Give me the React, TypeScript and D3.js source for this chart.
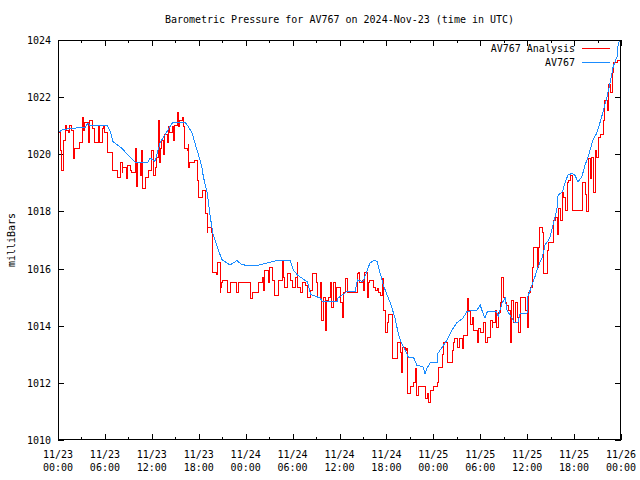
import React from "react";
import * as d3 from "d3";

const TITLE = "Barometric Pressure for AV767 on 2024-Nov-23 (time in UTC)";
const Y_LABEL = "milliBars";
const SERIES_NAMES = ["AV767 Analysis", "AV767"];

const yTicks = [1010, 1012, 1014, 1016, 1018, 1020, 1022, 1024];
const xTickHours = [0, 6, 12, 18, 24, 30, 36, 42, 48, 54, 60, 66, 72];
const xTickDates = ["11/23", "11/23", "11/23", "11/23", "11/24", "11/24", "11/24", "11/24", "11/25", "11/25", "11/25", "11/25", "11/26"];
const xTickTimes = ["00:00", "06:00", "12:00", "18:00", "00:00", "06:00", "12:00", "18:00", "00:00", "06:00", "12:00", "18:00", "00:00"];
const xMinorHours = [3, 9, 15, 21, 27, 33, 39, 45, 51, 57, 63, 69];

// AV767 (observed) — hours since 2024-11-23 00:00 UTC
const av767Hours = [0, 0.5, 1.5, 3.5, 3.84, 4.1, 6.3, 6.7, 7.0, 8.2, 9.2, 9.85, 11.5, 11.8, 12.4, 13.05, 13.94, 14.7, 16.2, 16.6, 17.14, 17.5, 17.9, 18.4, 18.6, 19.1, 19.4, 19.8, 20.5, 21.0, 22.0, 22.9, 23.5, 25.5, 25.8, 28.0, 29.7, 30.1, 30.6, 31.9, 32.3, 33.5, 33.8, 35.7, 35.8, 36.7, 36.96, 38.0, 38.3, 39.0, 39.5, 39.9, 40.5, 40.8, 41.2, 41.6, 42.1, 42.5, 43.1, 43.5, 43.9, 44.4, 44.8, 45.5, 45.9, 46.7, 46.94, 47.2, 47.6, 48.5, 48.6, 49.2, 49.75, 50.4, 51.0, 51.8, 52.3, 53.6, 54.0, 54.2, 54.6, 54.9, 56.1, 56.3, 56.8, 57.2, 57.4, 57.8, 58.4, 58.8, 59.1, 59.98, 60.1, 60.6, 61.0, 61.4, 61.9, 62.3, 62.9, 63.3, 63.8, 63.95, 64.5, 64.84, 65.2, 65.7, 66.1, 66.5, 67.0, 67.4, 67.8, 68.04, 68.42, 68.9, 69.3, 69.7, 70.2, 70.6, 71.0, 71.5, 71.6, 71.9, 72];
const av767Values = [1020.75, 1020.85, 1020.9, 1020.95, 1021.1, 1021.0, 1021.0, 1020.8, 1020.45, 1020.2, 1019.9, 1019.73, 1019.73, 1019.87, 1019.75, 1020.4, 1020.8, 1021.13, 1021.13, 1021.0, 1020.75, 1020.4, 1020.05, 1019.55, 1019.2, 1018.64, 1017.94, 1017.24, 1016.65, 1016.3, 1016.13, 1016.28, 1016.13, 1016.1, 1016.13, 1016.28, 1016.28, 1015.95, 1015.78, 1015.53, 1015.1, 1014.97, 1014.86, 1014.86, 1014.97, 1015.14, 1015.2, 1015.2, 1015.6, 1015.55, 1015.9, 1016.2, 1016.3, 1016.25, 1015.84, 1015.42, 1015.07, 1014.8, 1014.27, 1013.75, 1013.4, 1013.15, 1012.9, 1012.87, 1012.62, 1012.55, 1012.31, 1012.52, 1012.7, 1012.7, 1013.04, 1013.27, 1013.5, 1013.85, 1014.1, 1014.27, 1014.5, 1014.55, 1014.72, 1014.55, 1014.27, 1014.49, 1014.49, 1014.32, 1014.8, 1014.97, 1014.55, 1014.38, 1014.1, 1014.1, 1014.44, 1014.44, 1015.02, 1015.42, 1015.72, 1016.07, 1016.37, 1016.83, 1017.07, 1017.52, 1018.05, 1018.57, 1018.69, 1018.99, 1019.27, 1019.33, 1019.27, 1019.04, 1019.22, 1019.62, 1019.92, 1020.15, 1020.5, 1020.74, 1021.1, 1021.48, 1022.0, 1022.5, 1023.07, 1023.42, 1023.77, 1024.1, 1024.2];

// AV767 Analysis
const analysisHours = [0, 0.26, 0.51, 0.64, 0.9, 1.15, 1.4, 1.53, 1.79, 1.92, 2.17, 2.81, 3.07, 3.2, 3.45, 3.84, 4.09, 4.35, 4.73, 5.12, 5.37, 5.63, 5.76, 6.0, 6.27, 6.39, 6.65, 6.91, 7.03, 7.67, 7.93, 8.19, 8.31, 8.82, 8.95, 9.21, 9.46, 9.85, 10.1, 10.23, 10.49, 10.74, 10.87, 11.13, 11.51, 12.02, 12.15, 12.41, 12.66, 12.79, 12.92, 13.05, 13.3, 13.43, 13.68, 13.94, 14.07, 14.32, 14.58, 14.71, 14.96, 15.22, 15.35, 15.6, 15.86, 15.99, 16.24, 16.5, 16.63, 16.75, 16.88, 17.27, 17.52, 17.78, 17.91, 18.42, 18.54, 18.8, 19.06, 19.18, 19.57, 19.7, 19.82, 20.33, 20.46, 20.72, 20.84, 20.97, 21.1, 21.74, 22.0, 22.89, 23.02, 24.56, 24.81, 25.58, 26.09, 26.22, 26.47, 26.86, 27.11, 27.37, 27.75, 28.14, 28.65, 28.78, 29.03, 29.29, 29.67, 30.05, 30.31, 30.57, 30.69, 30.95, 31.33, 31.59, 31.85, 32.23, 32.49, 33.12, 33.25, 33.51, 33.76, 33.89, 34.15, 34.4, 34.53, 34.79, 35.04, 35.17, 35.43, 35.68, 36.07, 36.32, 36.45, 36.71, 36.96, 38.24, 38.37, 38.62, 38.88, 39.01, 39.26, 39.52, 39.65, 39.9, 40.29, 40.54, 40.8, 40.93, 41.18, 41.44, 41.57, 41.82, 42.08, 42.21, 42.72, 42.84, 43.48, 43.74, 43.87, 44.12, 44.38, 44.63, 44.76, 45.02, 45.4, 45.66, 45.91, 46.04, 46.94, 47.19, 47.32, 47.58, 47.96, 48.47, 48.6, 49.11, 49.24, 49.75, 50.39, 50.52, 50.77, 51.03, 51.41, 51.67, 51.8, 52.31, 52.44, 52.69, 52.95, 53.08, 53.59, 53.72, 53.97, 54.36, 54.61, 54.87, 55.25, 55.51, 55.63, 55.89, 56.14, 56.27, 56.53, 56.78, 56.91, 57.17, 57.42, 57.55, 57.81, 58.06, 58.19, 58.45, 58.7, 58.83, 59.09, 59.73, 59.98, 60.11, 60.37, 60.62, 60.75, 61.26, 61.39, 61.64, 61.9, 62.03, 62.54, 62.67, 63.31, 63.56, 63.82, 63.95, 64.2, 64.46, 64.59, 64.84, 65.1, 65.23, 65.48, 65.74, 65.86, 67.02, 67.14, 67.4, 67.65, 67.78, 68.04, 68.29, 68.42, 68.68, 68.93, 69.06, 69.32, 69.7, 69.95, 70.21, 70.34, 70.6, 70.85, 70.98, 71.24, 71.49, 71.88, 72];
const analysisValues = [1020.75, 1020.15, 1019.45, 1020.5, 1021.0, 1020.85, 1020.75, 1021.0, 1020.85, 1019.87, 1020.2, 1020.4, 1021.3, 1020.85, 1021.1, 1020.4, 1021.2, 1020.9, 1020.4, 1021.0, 1020.43, 1020.9, 1021.0, 1020.75, 1020.57, 1020.05, 1020.08, 1019.73, 1019.45, 1019.2, 1019.73, 1019.38, 1019.55, 1019.17, 1019.62, 1019.45, 1019.35, 1020.2, 1018.86, 1019.73, 1019.27, 1020.15, 1018.82, 1019.2, 1019.45, 1020.15, 1019.27, 1019.55, 1019.9, 1021.2, 1019.73, 1020.2, 1020.5, 1019.98, 1020.68, 1020.4, 1020.96, 1020.78, 1020.96, 1020.5, 1021.0, 1021.45, 1020.96, 1021.2, 1021.3, 1020.96, 1020.2, 1020.15, 1020.33, 1019.55, 1019.73, 1019.7, 1019.8, 1019.1, 1018.5, 1018.68, 1018.75, 1017.94, 1017.28, 1017.45, 1017.28, 1015.95, 1015.88, 1015.78, 1016.23, 1015.15, 1015.35, 1015.5, 1015.6, 1015.15, 1015.5, 1015.18, 1015.5, 1014.97, 1015.15, 1015.5, 1015.7, 1015.25, 1015.95, 1015.5, 1016.05, 1015.6, 1015.07, 1015.6, 1016.3, 1015.7, 1015.33, 1015.84, 1015.6, 1015.35, 1015.7, 1016.2, 1015.35, 1015.15, 1015.53, 1015.42, 1015.0, 1015.25, 1015.84, 1015.53, 1015.0, 1015.53, 1014.2, 1015.0, 1013.85, 1014.9, 1015.0, 1015.53, 1014.65, 1015.5, 1014.9, 1015.35, 1014.8, 1014.3, 1015.18, 1015.67, 1015.18, 1015.84, 1015.88, 1015.5, 1015.6, 1015.25, 1015.88, 1015.0, 1015.5, 1015.6, 1015.35, 1015.25, 1015.3, 1015.15, 1015.07, 1015.67, 1014.55, 1013.75, 1014.1, 1014.38, 1014.03, 1012.87, 1013.4, 1013.05, 1012.38, 1013.25, 1013.15, 1013.22, 1011.64, 1011.86, 1012.03, 1012.52, 1011.57, 1011.86, 1011.47, 1011.64, 1011.33, 1011.75, 1011.86, 1012.03, 1012.55, 1012.98, 1013.4, 1012.7, 1013.15, 1013.43, 1013.57, 1013.25, 1013.57, 1013.22, 1013.67, 1014.97, 1014.55, 1014.03, 1014.3, 1013.85, 1013.43, 1013.92, 1013.75, 1014.1, 1013.43, 1013.6, 1014.2, 1013.95, 1014.1, 1014.55, 1013.95, 1014.45, 1014.8, 1015.7, 1015.0, 1014.83, 1014.72, 1014.55, 1013.43, 1014.9, 1014.1, 1014.83, 1014.3, 1013.78, 1015.0, 1014.55, 1013.95, 1015.15, 1015.35, 1016.05, 1016.75, 1016.05, 1016.75, 1017.45, 1017.25, 1015.84, 1016.65, 1016.93, 1017.7, 1017.8, 1017.18, 1018.12, 1017.7, 1018.65, 1018.5, 1018.05, 1019.0, 1019.1, 1019.27, 1018.15, 1018.05, 1018.15, 1019.03, 1018.6, 1018.0, 1019.87, 1019.17, 1019.9, 1018.68, 1020.15, 1019.9, 1020.6, 1020.68, 1021.2, 1021.9, 1021.55, 1022.43, 1022.18, 1022.85, 1023.2, 1023.23, 1023.3, 1023.4, 1023.45];

const FONT = "'DejaVu Sans Mono', 'Liberation Mono', monospace";
const RED = "#ff0000";
const BLUE = "#1a8cff";

export default function App() {
  const W = 640, H = 480;
  const left = 58, right = 621, top = 40, bottom = 440;
  const x = d3.scaleLinear().domain([0, 72]).range([left, right]);
  const y = d3.scaleLinear().domain([1010, 1024]).range([bottom, top]);

  const red = analysisHours.map((h, i) => [h, analysisValues[i]] as [number, number]);
  const blue = av767Hours.map((h, i) => [h, av767Values[i]] as [number, number]);

  const redLine = d3.line<[number, number]>().x(d => x(d[0])).y(d => y(d[1])).curve(d3.curveStepAfter);
  const blueLine = d3.line<[number, number]>().x(d => x(d[0])).y(d => y(d[1])).curve(d3.curveLinear);

  const major = 6, minor = 3;

  return (
    <svg width={W} height={H} style={{ display: "block", position: "absolute", left: 0, top: 0, background: "#fff" }} fontFamily={FONT} fontSize={10}>
      <defs>
        <clipPath id="plotclip">
          <rect x={left} y={top} width={right - left} height={bottom - top} />
        </clipPath>
      </defs>
      <rect x={0} y={0} width={W} height={H} fill="#fff" />
      <text x={339.5} y={23} textAnchor="middle" fill="#000">{TITLE}</text>
      <text transform={`translate(15,${(top + bottom) / 2}) rotate(-90)`} textAnchor="middle" fill="#000">{Y_LABEL}</text>

      {/* y ticks */}
      {yTicks.map(v => (
        <g key={"y" + v}>
          <line x1={left} x2={left + major} y1={Math.round(y(v)) + 0.5} y2={Math.round(y(v)) + 0.5} stroke="#000" shapeRendering="crispEdges" />
          <line x1={right - major} x2={right} y1={Math.round(y(v)) + 0.5} y2={Math.round(y(v)) + 0.5} stroke="#000" shapeRendering="crispEdges" />
          <text x={51} y={y(v) + 4} textAnchor="end" fill="#000">{v}</text>
        </g>
      ))}

      {/* x ticks */}
      {xTickHours.map((h, i) => {
        const px = Math.round(x(h)) + 0.5;
        return (
          <g key={"x" + h}>
            <line x1={px} x2={px} y1={bottom} y2={bottom - major} stroke="#000" shapeRendering="crispEdges" />
            <line x1={px} x2={px} y1={top} y2={top + major} stroke="#000" shapeRendering="crispEdges" />
            <text x={x(h)} y={458} textAnchor="middle" fill="#000">{xTickDates[i]}</text>
            <text x={x(h)} y={471} textAnchor="middle" fill="#000">{xTickTimes[i]}</text>
          </g>
        );
      })}
      {xMinorHours.map(h => {
        const px = Math.round(x(h)) + 0.5;
        return (
          <g key={"m" + h}>
            <line x1={px} x2={px} y1={bottom} y2={bottom - minor} stroke="#000" shapeRendering="crispEdges" />
            <line x1={px} x2={px} y1={top} y2={top + minor} stroke="#000" shapeRendering="crispEdges" />
          </g>
        );
      })}

      <g clipPath="url(#plotclip)">
        <path d={redLine(red) || ""} fill="none" stroke={RED} strokeWidth={1} shapeRendering="crispEdges" />
        <path d={blueLine(blue) || ""} fill="none" stroke={BLUE} strokeWidth={1} shapeRendering="crispEdges" />
      </g>

      {/* legend */}
      <text x={575} y={52} textAnchor="end" fill="#000">{SERIES_NAMES[0]}</text>
      <line x1={582} x2={610} y1={48.5} y2={48.5} stroke={RED} shapeRendering="crispEdges" />
      <text x={575} y={66} textAnchor="end" fill="#000">{SERIES_NAMES[1]}</text>
      <line x1={582} x2={610} y1={62.5} y2={62.5} stroke={BLUE} shapeRendering="crispEdges" />

      {/* frame */}
      <rect x={left + 0.5} y={top + 0.5} width={right - left - 1} height={bottom - top - 1} fill="none" stroke="#000" shapeRendering="crispEdges" />
    </svg>
  );
}
